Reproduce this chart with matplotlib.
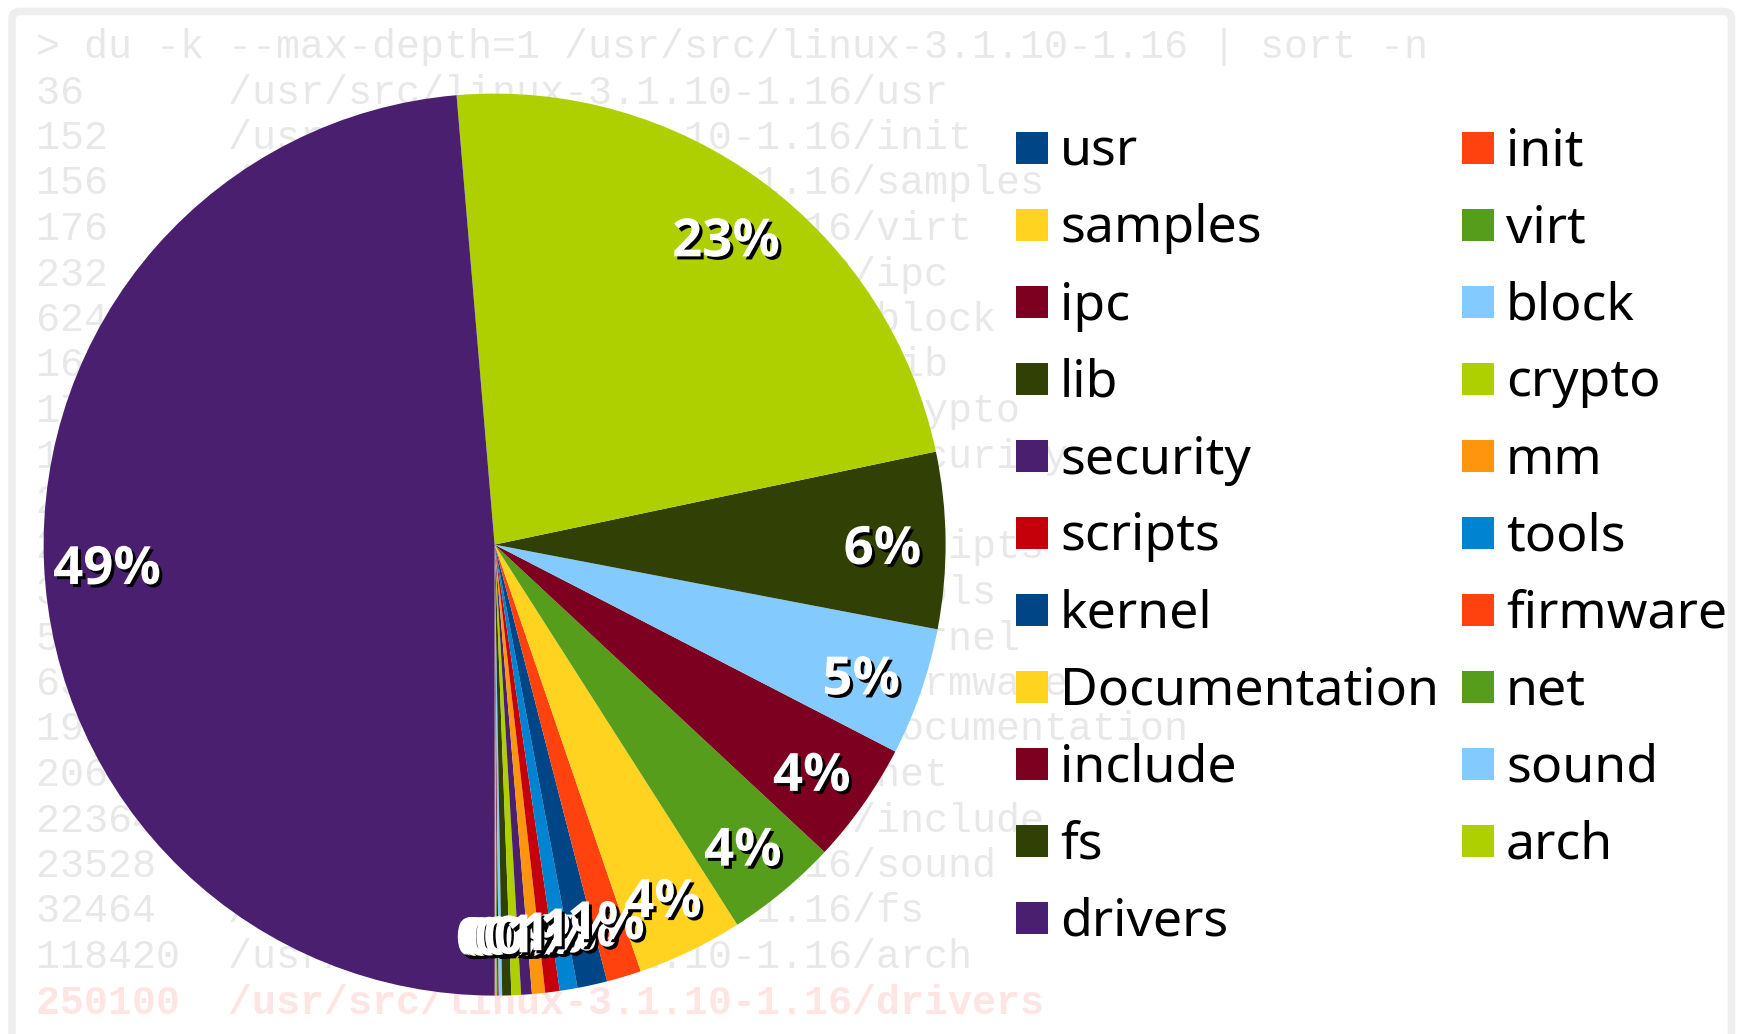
import matplotlib
matplotlib.use("Agg")
import matplotlib.pyplot as plt
import matplotlib.patheffects as pe
from matplotlib.patches import Rectangle, FancyBboxPatch

# du -k --max-depth=1 output (values hidden behind the pie are estimated)
dirs = ['usr', 'init', 'samples', 'virt', 'ipc', 'block', 'lib', 'crypto',
        'security', 'mm', 'scripts', 'tools', 'kernel', 'firmware',
        'Documentation', 'net', 'include', 'sound', 'fs', 'arch', 'drivers']
sizes_kb = [36, 152, 156, 176, 232, 624, 1676, 1764,
            1972, 2416, 2664, 3276, 5488, 6372,
            19480, 20664, 22364, 23528, 32464, 118420, 250100]

# libreoffice default palette, cycled
palette = ['#004586', '#ff420e', '#ffd320', '#579d1c', '#7e0021', '#83caff',
           '#314004', '#aecf00', '#4b1f6f', '#ff950e', '#c5000b', '#0084d1']
colors = [palette[i % len(palette)] for i in range(len(dirs))]

cmd = '> du -k --max-depth=1 /usr/src/linux-3.1.10-1.16 | sort -n'
prefix = '/usr/src/linux-3.1.10-1.16/'

W, H = 1743, 1034
fig = plt.figure(figsize=(W / 100, H / 100), dpi=100)
fig.patch.set_facecolor('white')

# background layer in pixel coords
bg = fig.add_axes([0, 0, 1, 1])
bg.set_xlim(0, W)
bg.set_ylim(H, 0)
bg.axis('off')

# light grey frame (top, left, right)
bg.add_patch(FancyBboxPatch((12, 11.5), 1719.5, 1100, boxstyle='round,pad=0,rounding_size=8',
                            fill=False, ec='#eeeeee', lw=5.5))

mono = 'Liberation Mono'
y0, dy = 47, 45.5
bg.text(36, y0, cmd, family=mono, fontsize=28.8, color='#e8e8e8', va='center', zorder=1)
for i, (d, s) in enumerate(zip(dirs, sizes_kb)):
    line = f'{s:<8}{prefix}{d}'
    last = i == len(dirs) - 1
    bg.text(36, y0 + dy * (i + 1), line, family=mono, fontsize=28.8,
            color='#ffe4e4' if last else '#e8e8e8',
            weight='bold' if last else 'normal', va='center', zorder=1)

# legend, filled row by row
sq = 32
for i, (d, c) in enumerate(zip(dirs, colors)):
    col, row = i % 2, i // 2
    x = 1016 if col == 0 else 1462
    yc = 148 + 77 * row
    bg.add_patch(Rectangle((x, yc - sq / 2), sq, sq, fc=c, ec='none', zorder=5))
    bg.text(x + 44, yc + 4, d, family='Noto Sans', fontsize=37.3, color='black',
            va='center', zorder=5)

# pie
cx, cy, r = 494.6, 544.6, 451
ax = fig.add_axes([(cx - r) / W, (H - cy - r) / H, 2 * r / W, 2 * r / H])
ax.patch.set_alpha(0)
wedges, texts, autotexts = ax.pie(
    sizes_kb, colors=colors, startangle=-90, counterclock=True,
    autopct='%.0f%%', pctdistance=0.86, radius=1,
    wedgeprops=dict(linewidth=0),
    textprops=dict(color='white', fontsize=38, weight='bold', family='Open Sans'))
for t in autotexts:
    x, y = t.get_position()
    t.set_position((x, y - 0.02))
    t.set_path_effects([pe.SimplePatchShadow(offset=(2.2, -2.2), shadow_rgbFace='black', alpha=1),
                        pe.Normal()])
ax.set_xlim(-1, 1)
ax.set_ylim(-1, 1)
ax.set_aspect('equal')
ax.axis('off')

fig.savefig('out.png', dpi=100, facecolor='white')
